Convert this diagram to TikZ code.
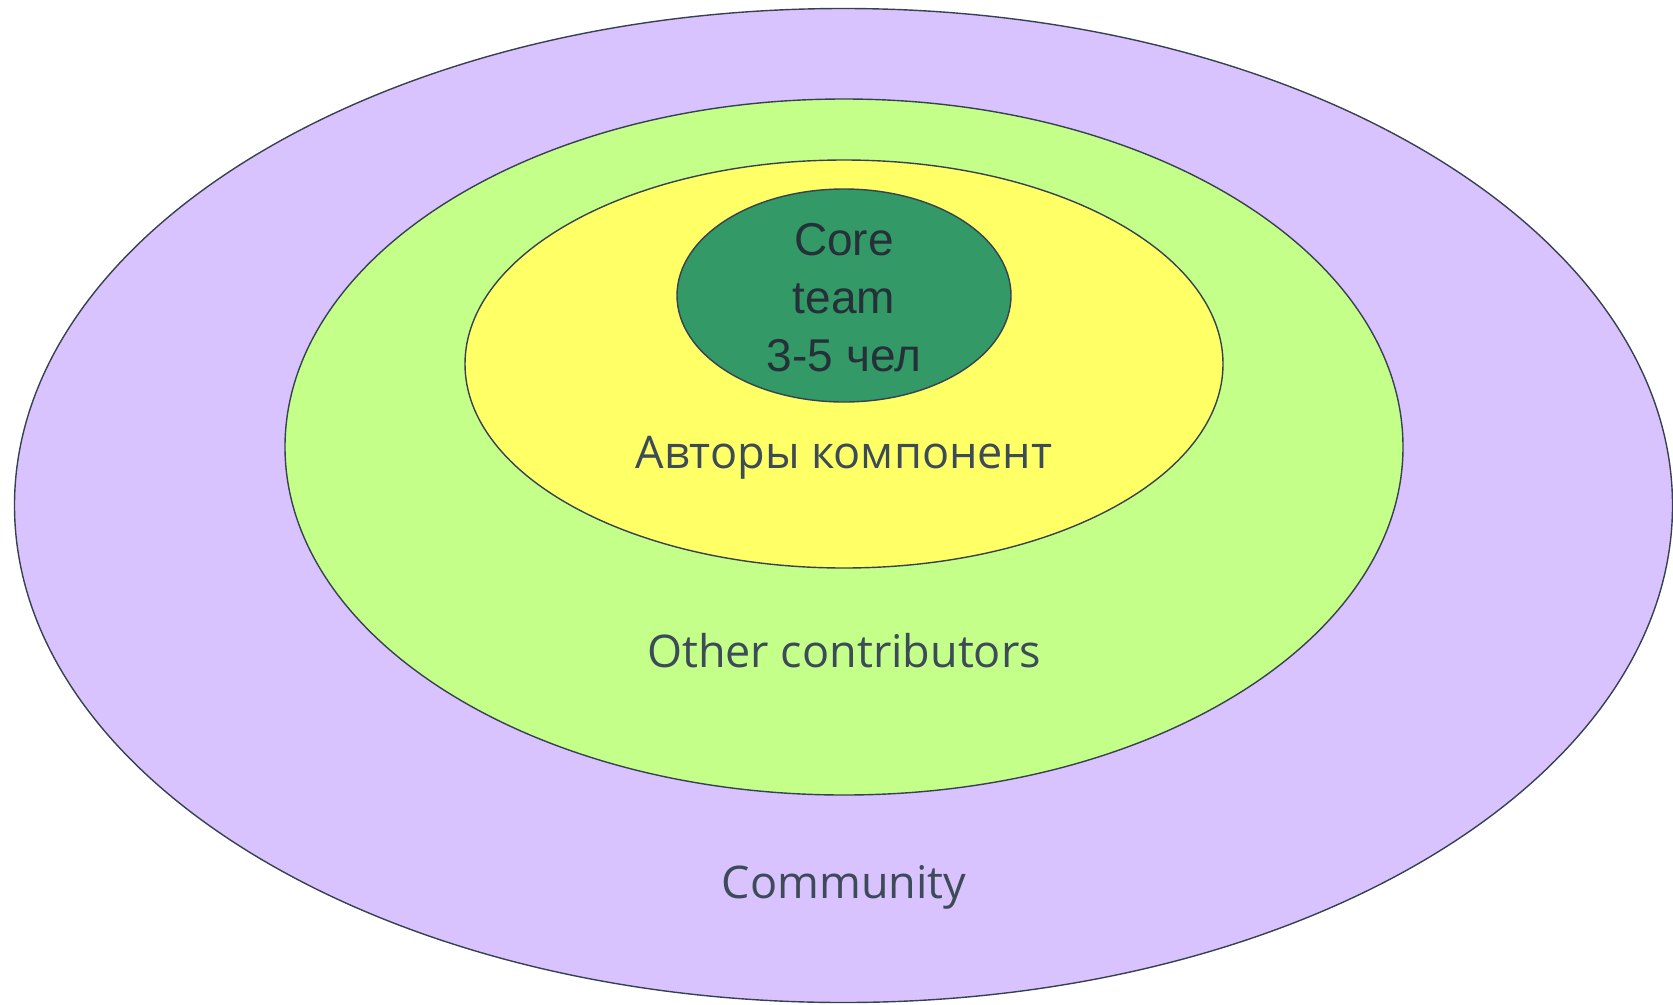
\documentclass[tikz,border=0pt]{standalone}
\usepackage{fontspec}
\setmainfont{Open Sans}
\newfontfamily\arialf{Liberation Sans}
\definecolor{purp}{RGB}{217,195,255}
\definecolor{lgreen}{RGB}{196,255,138}
\definecolor{yel}{RGB}{255,255,102}
\definecolor{dgreen}{RGB}{51,153,102}
\definecolor{edge}{RGB}{55,65,79}
\definecolor{txt}{RGB}{61,74,87}
\definecolor{txtd}{RGB}{38,48,56}
\tikzset{
  ring/.style={draw=edge, line width=1.4pt},
  lbl/.style={text=txt, inner sep=0pt, font=\fontsize{45}{54}\selectfont},
}
\begin{document}
\begin{tikzpicture}[x=1pt,y=-1pt]
\useasboundingbox (0,0) rectangle (1673,1004);
\draw[ring, fill=purp] (843.5,505.5) ellipse [x radius=829, y radius=497];
\draw[ring, fill=lgreen] (844,447) ellipse [x radius=559, y radius=348];
\draw[ring, fill=yel] (844,364) ellipse [x radius=379, y radius=204];
\draw[ring, fill=dgreen] (844,295.5) ellipse [x radius=167, y radius=106.5];
\node[lbl, anchor=base] (authors) at (844,468) {Авторы компонент};
\node[lbl, anchor=base] (others) at (844,667) {Other contributors};
\node[lbl, anchor=base] (comm) at (844,898) {Community};
\node[text=txtd, inner sep=0pt, anchor=base, font=\arialf\fontsize{46}{58}\selectfont, align=center] (core) at (844,371) {Core\\team\\3-5 чел};
\end{tikzpicture}
\end{document}
